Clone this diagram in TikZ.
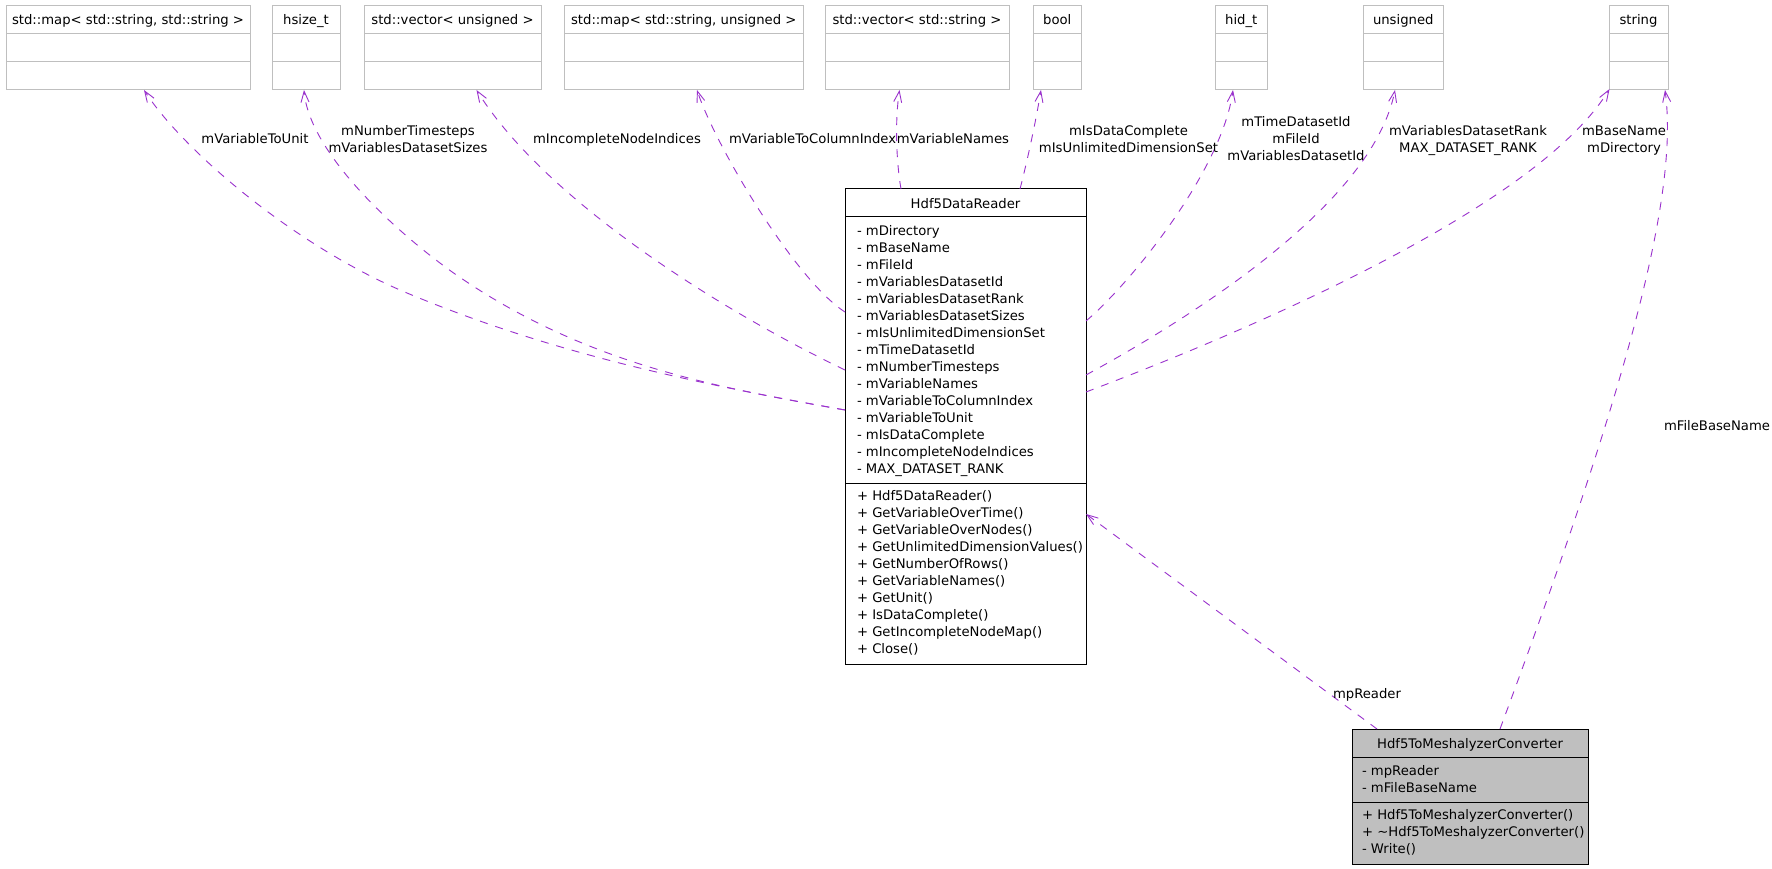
\documentclass[tikz,border=0pt]{standalone}
\usepackage{fontspec}
\setmainfont{DejaVu Sans}
\usetikzlibrary{arrows.meta,calc}
\definecolor{edgecol}{HTML}{9A32CD}
\definecolor{greybox}{HTML}{BFBFBF}
\newcommand\topclass[4]{% name, left x, width, label
  \node[tbox, minimum width=#3pt] (#1) at (#2,6) {};
  \draw[tdiv] ([yshift=-28pt]#1.north west) -- ([yshift=-28pt]#1.north east);
  \draw[tdiv] ([yshift=-56pt]#1.north west) -- ([yshift=-56pt]#1.north east);
  \node[lbl] (#1-title) at ($(#1.north)+(0,19)$) {#4};
}
\begin{document}
\begin{tikzpicture}[x=1pt,y=-1pt,
  txt/.style={inner sep=0pt, outer sep=0pt, font=\fontsize{13.2}{17}\selectfont},
  lbl/.style={txt, anchor=base},
  tbox/.style={draw=greybox, line width=1pt, fill=white, anchor=north west, minimum height=84pt, inner sep=0pt, outer sep=0pt},
  tdiv/.style={draw=greybox, line width=1pt},
  cbox/.style={draw=black, line width=1pt, anchor=north west, inner sep=0pt, outer sep=0pt},
  cdiv/.style={draw=black, line width=1pt},
  conn/.style={draw=edgecol, line width=0.9pt, dash pattern=on 8pt off 8pt, -{Straight Barb[length=11pt,width=8pt]}},
]
\useasboundingbox[fill=white] (0,0) rectangle (1772,869);

% ---------- top classes ----------
\topclass{mapss}{6}{244}{std::map< std::string, std::string >}
\topclass{hsize}{272}{68}{hsize\_t}
\topclass{vecu}{364}{177}{std::vector< unsigned >}
\topclass{mapsu}{564.5}{238.5}{std::map< std::string, unsigned >}
\topclass{vecs}{825}{184}{std::vector< std::string >}
\topclass{bool}{1033.5}{47.5}{bool}
\topclass{hid}{1215.5}{51.5}{hid\_t}
\topclass{uns}{1363}{80.5}{unsigned}
\topclass{str}{1609}{59}{string}

% ---------- Hdf5DataReader ----------
\node[cbox, fill=white, minimum width=241pt, minimum height=475pt] (reader) at (845,189) {};
\draw[cdiv] ([yshift=-28pt]reader.north west) -- ([yshift=-28pt]reader.north east);
\draw[cdiv] ([yshift=-294pt]reader.north west) -- ([yshift=-294pt]reader.north east);
\node[lbl] (reader-title) at (965.5,208) {Hdf5DataReader};
\foreach \a [count=\i from 0] in {mDirectory,mBaseName,mFileId,mVariablesDatasetId,mVariablesDatasetRank,mVariablesDatasetSizes,mIsUnlimitedDimensionSet,mTimeDatasetId,mNumberTimesteps,mVariableNames,mVariableToColumnIndex,mVariableToUnit,mIsDataComplete,mIncompleteNodeIndices,MAX\_DATASET\_RANK}
  \node[txt, anchor=base west] (ra\i) at (857,235.8+16.96*\i) {- \a};
\foreach \m [count=\i from 0] in {Hdf5DataReader(),GetVariableOverTime(),GetVariableOverNodes(),GetUnlimitedDimensionValues(),GetNumberOfRows(),GetVariableNames(),GetUnit(),IsDataComplete(),GetIncompleteNodeMap(),Close()}
  \node[txt, anchor=base west] (rm\i) at (857,500.5+16.96*\i) {+ \m};

% ---------- Hdf5ToMeshalyzerConverter ----------
\node[cbox, fill=greybox, minimum width=236pt, minimum height=135pt] (conv) at (1352,729) {};
\draw[cdiv] ([yshift=-28pt]conv.north west) -- ([yshift=-28pt]conv.north east);
\draw[cdiv] ([yshift=-73pt]conv.north west) -- ([yshift=-73pt]conv.north east);
\node[lbl] (conv-title) at (1470,748) {Hdf5ToMeshalyzerConverter};
\node[txt, anchor=base west] (ca0) at (1362,775.5) {- mpReader};
\node[txt, anchor=base west] (ca1) at (1362,792.3) {- mFileBaseName};
\node[txt, anchor=base west] (cm0) at (1362,819.5) {+ Hdf5ToMeshalyzerConverter()};
\node[txt, anchor=base west] (cm1) at (1362,836.3) {+ \textasciitilde Hdf5ToMeshalyzerConverter()};
\node[txt, anchor=base west] (cm2) at (1362,853.1) {- Write()};

% ---------- connectors ----------
\draw[conn] ($(reader.north west)+(0,221)$) .. controls (699,384) and (553,354) .. (407,293)
  .. controls (297,247) and (184,152) .. ($(mapss.south west)+(138,0)$);
\draw[conn] ($(reader.north west)+(0,221)$) .. controls (715,387) and (584,364) .. (453.6,273)
  .. controls (389,227) and (309,150) .. ($(hsize.south west)+(32,0)$);
\draw[conn] ($(reader.north west)+(0,181)$) .. controls (720,310) and (545,200) .. ($(vecu.south west)+(112.5,0)$);
\draw[conn] ($(reader.north west)+(0,123)$) .. controls (795,280) and (715,145) .. ($(mapsu.south west)+(132.5,0)$);
\draw[conn] ($(reader.north west)+(56,0)$) .. controls (896,160) and (895,120) .. ($(vecs.south west)+(74.5,0)$);
\draw[conn] ($(reader.north west)+(175,0)$) .. controls (1028,158) and (1036,120) .. ($(bool.south west)+(7.5,0)$);
\draw[conn] ($(reader.north east)+(0,132)$) .. controls (1131,283) and (1222,170) .. ($(hid.south west)+(17.5,0)$);
\draw[conn] ($(reader.north east)+(0,186)$) .. controls (1190,318) and (1372,205) .. ($(uns.south west)+(32,0)$);
\draw[conn] ($(reader.north east)+(0,203)$) .. controls (1266,324) and (1539,204) .. ($(str.south west)+(0.5,-1)$);
\draw[conn] ($(conv.north west)+(148,0)$) .. controls (1620,406) and (1680,200) .. ($(str.south west)+(56,0)$);
\draw[conn] ($(conv.north west)+(25,0)$) -- ($(reader.north east)+(0,325)$);

% ---------- connector labels ----------
\node[lbl] (l-unit) at (255,143.8) {mVariableToUnit};
\node[lbl] (l-hs1) at (408,135.5) {mNumberTimesteps};
\node[lbl] (l-hs2) at (408,152.5) {mVariablesDatasetSizes};
\node[lbl] (l-inc) at (617,143.8) {mIncompleteNodeIndices};
\node[txt, anchor=base west] (l-col) at (729,143.8) {mVariableToColumnIndex};
\node[txt, anchor=base east] (l-names) at (1009,143.8) {mVariableNames};
\node[lbl] (l-b1) at (1128.5,135.5) {mIsDataComplete};
\node[lbl] (l-b2) at (1128.5,152.5) {mIsUnlimitedDimensionSet};
\node[lbl] (l-h1) at (1296,126.5) {mTimeDatasetId};
\node[lbl] (l-h2) at (1296,143.3) {mFileId};
\node[lbl] (l-h3) at (1296,160.3) {mVariablesDatasetId};
\node[lbl] (l-u1) at (1468,135.5) {mVariablesDatasetRank};
\node[lbl] (l-u2) at (1468,152.5) {MAX\_DATASET\_RANK};
\node[lbl] (l-s1) at (1624,135.5) {mBaseName};
\node[lbl] (l-s2) at (1624,152.5) {mDirectory};
\node[lbl] (l-fbn) at (1717,430.5) {mFileBaseName};
\node[lbl] (l-rd) at (1367,698.8) {mpReader};
\end{tikzpicture}
\end{document}
